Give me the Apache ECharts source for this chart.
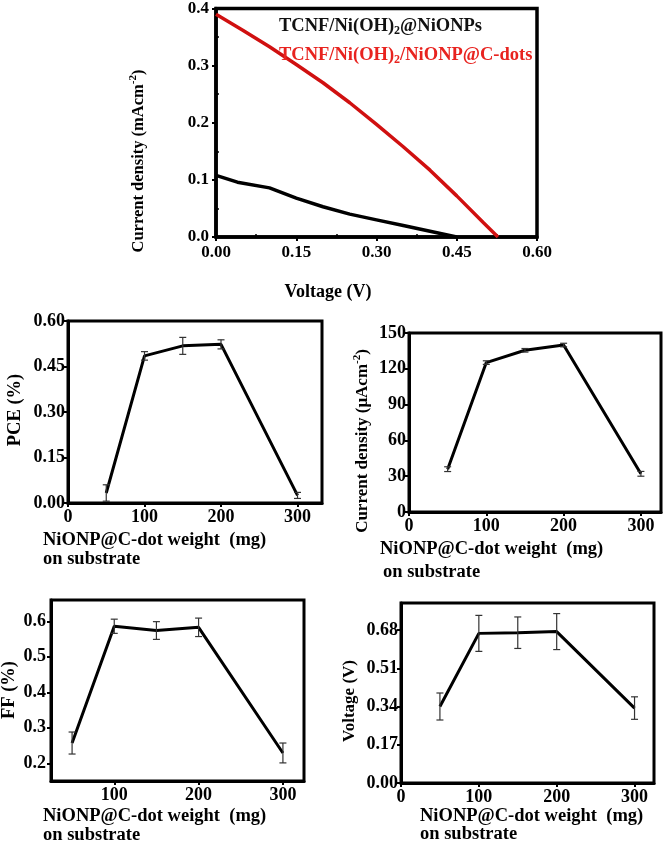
<!DOCTYPE html>
<html>
<head>
<meta charset="utf-8">
<script src="https://cdn.jsdelivr.net/npm/echarts@6/dist/echarts.min.js"></script>
<style>
html,body{margin:0;padding:0;background:#fff;}
#chart{width:664px;height:843px;}
</style>
</head>
<body>
<div id="chart"></div>
<script>
// ---- Data ----
// Top J-V curves
const redVoltage = [0, 0.05, 0.1, 0.15, 0.2, 0.25, 0.3, 0.35, 0.4, 0.45, 0.5, 0.527];
const redCurrent = [0.39, 0.362, 0.333, 0.302, 0.27, 0.235, 0.197, 0.158, 0.117, 0.072, 0.025, 0];
const blackVoltage = [0, 0.04, 0.1, 0.15, 0.2, 0.25, 0.3, 0.35, 0.4, 0.45];
const blackCurrent = [0.108, 0.096, 0.086, 0.068, 0.053, 0.04, 0.03, 0.02, 0.01, 0.0];
const jvXTicks = [0, 0.15, 0.30, 0.45, 0.60];
const jvYTicks = [0, 0.1, 0.2, 0.3, 0.4];

// Weight dependence
const weights = [50, 100, 150, 200, 300];
const pce = [0.033, 0.485, 0.518, 0.523, 0.025];
const pceErr = [0.027, 0.014, 0.028, 0.015, 0.01];
const jsc = [35.9, 125.2, 135.5, 139.9, 32.0];
const jscErr = [2, 1.5, 1.5, 1.5, 2];
const ff = [0.257, 0.586, 0.574, 0.583, 0.229];
const ffErr = [0.031, 0.02, 0.025, 0.026, 0.028];
const voc = [0.340, 0.665, 0.668, 0.673, 0.333];
const vocErr = [0.06, 0.08, 0.07, 0.08, 0.05];

const pceYTicks = [0, 0.15, 0.30, 0.45, 0.60];
const jscYTicks = [0, 30, 60, 90, 120, 150];
const ffYTicks = [0.2, 0.3, 0.4, 0.5, 0.6];
const vocYTicks = [0, 0.17, 0.34, 0.51, 0.68];
const weightTicks = [0, 100, 200, 300];
const weightTicksFF = [100, 200, 300];

// ---- Styling helpers ----
const FONT = '"Liberation Serif", "Times New Roman", serif';
const chart = echarts.init(document.getElementById('chart'), null, {renderer: 'canvas'});

function gridBox(left, top, width, height, bw) {
  return {left, top, width, height, show: true, borderColor: '#000', borderWidth: bw, backgroundColor: 'transparent', containLabel: false};
}
function valAxis(gridIndex, opt) {
  const ax = {
    type: 'value', gridIndex,
    min: opt.min, max: opt.max,
    splitLine: {show: false},
    axisLine: {show: true, lineStyle: {color: '#000', width: opt.lw || 3}},
    axisTick: {show: true, length: 4, lineStyle: {color: '#000', width: 2}},
    minorTick: {show: false},
    axisLabel: {
      color: '#000', fontFamily: FONT, fontWeight: 'bold', fontSize: opt.fs || 18,
      margin: opt.margin || 5,
      formatter: v => opt.dec == null ? String(Math.round(v)) : v.toFixed(opt.dec)
    }
  };
  if (opt.interval) {
    ax.interval = opt.interval;
    ax.minorTick = {show: true, splitNumber: 2, length: -3, lineStyle: {color: '#000', width: 1.5}};
  } else {
    ax.axisTick.customValues = opt.ticks;
    ax.axisLabel.customValues = opt.ticks;
  }
  return ax;
}

function errSeries(xi, xs, ys, es) {
  return {
    type: 'custom', xAxisIndex: xi, yAxisIndex: xi, z: 4,
    data: xs.map((x, i) => [x, ys[i] - es[i], ys[i] + es[i]]),
    encode: {x: 0, y: [1, 2]},
    renderItem: function (params, api) {
      const lo = api.coord([api.value(0), api.value(1)]);
      const hi = api.coord([api.value(0), api.value(2)]);
      const w = 3.5;
      const st = {stroke: '#333', lineWidth: 1.2};
      return {type: 'group', children: [
        {type: 'line', shape: {x1: lo[0], y1: lo[1], x2: hi[0], y2: hi[1]}, style: st},
        {type: 'line', shape: {x1: lo[0] - w, y1: lo[1], x2: lo[0] + w, y2: lo[1]}, style: st},
        {type: 'line', shape: {x1: hi[0] - w, y1: hi[1], x2: hi[0] + w, y2: hi[1]}, style: st}
      ]};
    }
  };
}
function lineSeries(xi, xs, ys, color, width) {
  return {
    type: 'line', xAxisIndex: xi, yAxisIndex: xi, z: 3,
    data: xs.map((x, i) => [x, ys[i]]),
    showSymbol: false, symbol: 'none', smooth: false,
    lineStyle: {color, width}
  };
}

function txt(x, y, text, opts) {
  opts = opts || {};
  return {
    type: 'text', x, y, rotation: opts.rot || 0, z: 10,
    style: {
      text, fill: opts.color || '#000', font: 'bold ' + (opts.fs || 18.5) + 'px ' + FONT,
      align: opts.align || 'left', verticalAlign: 'middle',
      rich: opts.rich
    }
  };
}
function supRich(fs) {
  return {
    n: {fontFamily: FONT, fontWeight: 'bold', fontSize: fs, lineHeight: 22, fill: '#000'},
    sup: {fontFamily: FONT, fontWeight: 'bold', fontSize: 11, verticalAlign: 'top', lineHeight: 22, fill: '#000'}
  };
}
function subRich(fs, color) {
  return {
    n: {fontFamily: FONT, fontWeight: 'bold', fontSize: fs, lineHeight: 22, fill: color},
    sub: {fontFamily: FONT, fontWeight: 'bold', fontSize: 12, verticalAlign: 'bottom', lineHeight: 22, fill: color}
  };
}

const option = {
  animation: false,
  backgroundColor: '#fff',
  grid: [
    gridBox(216, 7, 321, 230, 3.5),
    gridBox(68, 321, 254, 182, 3),
    gridBox(409, 333, 252, 179, 3),
    gridBox(51, 600, 253, 181, 3),
    gridBox(401, 603, 253, 180, 3)
  ],
  xAxis: [
    valAxis(0, {min: 0, max: 0.6, interval: 0.15, dec: 2, fs: 17, lw: 3.5, margin: 7}),
    valAxis(1, {min: 0, max: 332, ticks: weightTicks}),
    valAxis(2, {min: 0, max: 326, ticks: weightTicks}),
    valAxis(3, {min: 25, max: 325, ticks: weightTicksFF}),
    valAxis(4, {min: 0, max: 325, ticks: weightTicks})
  ],
  yAxis: [
    valAxis(0, {min: 0, max: 0.4, interval: 0.1, dec: 1, fs: 17, lw: 3.5, margin: 7}),
    valAxis(1, {min: 0, max: 0.6, ticks: pceYTicks, dec: 2, margin: 3}),
    valAxis(2, {min: 0, max: 150, ticks: jscYTicks, margin: 3}),
    valAxis(3, {min: 0.15, max: 0.66, ticks: ffYTicks, dec: 1, margin: 5}),
    valAxis(4, {min: 0, max: 0.80, ticks: vocYTicks, dec: 2, margin: 3})
  ],
  series: [
    lineSeries(0, blackVoltage, blackCurrent, '#000', 3.5),
    lineSeries(0, redVoltage, redCurrent, '#d01010', 3.5),
    lineSeries(1, weights, pce, '#000', 3),
    errSeries(1, weights, pce, pceErr),
    lineSeries(2, weights, jsc, '#000', 3),
    errSeries(2, weights, jsc, jscErr),
    lineSeries(3, weights, ff, '#000', 3),
    errSeries(3, weights, ff, ffErr),
    lineSeries(4, weights, voc, '#000', 3),
    errSeries(4, weights, voc, vocErr)
  ],
  graphic: [
    // legend texts (top chart)
    txt(279, 26, '{n|TCNF/Ni(OH)}{sub|2}{n|@NiONPs}', {rich: subRich(18.5, '#111')}),
    txt(279, 55, '{n|TCNF/Ni(OH)}{sub|2}{n|/NiONP@C-dots}', {rich: subRich(18.5, '#e8231f')}),
    // top chart axis titles
    txt(139, 161, '{n|Current density (mAcm}{sup|-2}{n|)}', {rot: Math.PI / 2, align: 'center', rich: supRich(16.5)}),
    txt(328, 292, 'Voltage (V)', {align: 'center', fs: 18}),
    // PCE
    txt(15, 410, 'PCE (%)', {rot: Math.PI / 2, align: 'center'}),
    txt(43, 540, 'NiONP@C-dot weight  (mg)', {}),
    txt(43, 559, 'on substrate', {}),
    // Jsc
    txt(363, 441, '{n|Current density (μAcm}{sup|-2}{n|)}', {rot: Math.PI / 2, align: 'center', rich: supRich(17)}),
    txt(380, 549, 'NiONP@C-dot weight  (mg)', {}),
    txt(383, 572, 'on substrate', {}),
    // FF
    txt(9, 690, 'FF (%)', {rot: Math.PI / 2, align: 'center'}),
    txt(43, 816, 'NiONP@C-dot weight  (mg)', {}),
    txt(43, 835, 'on substrate', {}),
    // Voc
    txt(350, 701, 'Voltage (V)', {rot: Math.PI / 2, align: 'center', fs: 17}),
    txt(420, 816, 'NiONP@C-dot weight  (mg)', {}),
    txt(420, 834, 'on substrate', {})
  ]
};
chart.setOption(option);
</script>
</body>
</html>
